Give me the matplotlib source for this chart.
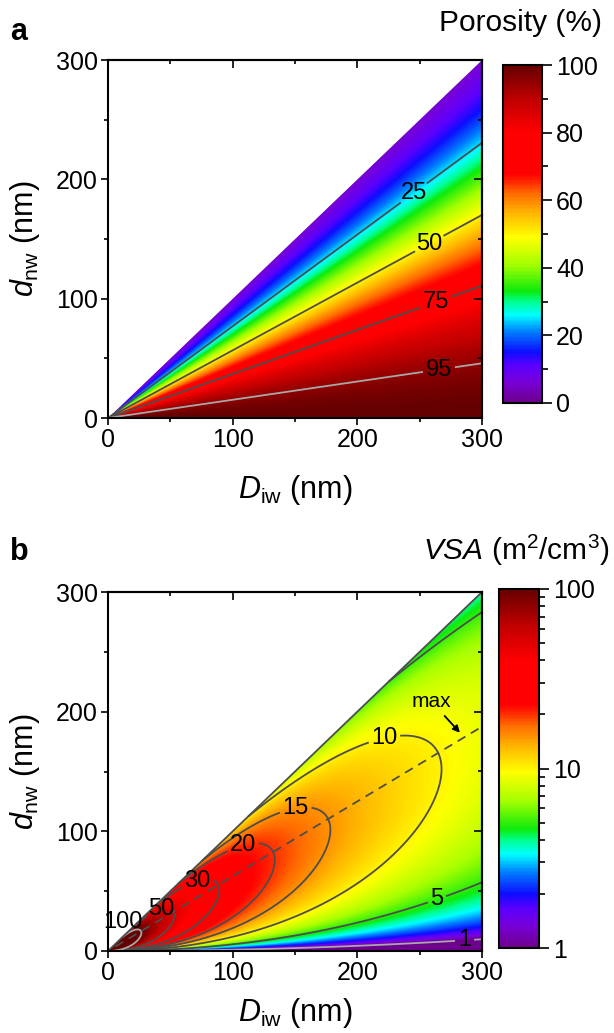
import numpy as np
import matplotlib
matplotlib.use('Agg')
import matplotlib.pyplot as plt
from matplotlib.colors import LinearSegmentedColormap, LogNorm, Normalize
from matplotlib.cm import ScalarMappable
from matplotlib.patches import Polygon
from matplotlib.ticker import MultipleLocator, LogLocator, NullFormatter, FixedLocator, FixedFormatter

plt.rcParams['font.family'] = ['Liberation Sans', 'DejaVu Sans']
plt.rcParams['mathtext.fontset'] = 'custom'
plt.rcParams['mathtext.rm'] = 'Liberation Sans'
plt.rcParams['mathtext.it'] = 'Liberation Sans:italic'
plt.rcParams['mathtext.bf'] = 'Liberation Sans:bold'
plt.rcParams['axes.linewidth'] = 1.5

# ---- data ----
D_lim = 300                       # nm, both axes run 0..300
axis_ticks = [0, 100, 200, 300]

# porosity map: contour levels and where their labels sit (D, d)
por_levels = [25, 50, 75, 95]
por_label_pos = [(244.7, 189.4), (257.0, 147.5), (263.0, 96.4), (265.5, 40.2)]
por_light = [95]

# VSA map: contour levels and label positions
vsa_levels = [1, 5, 10, 15, 20, 30, 50, 100]
vsa_label_pos = {1: (286.0, 9.2), 5: (263.6, 44.0), 10: (222.0, 176.0),
                 15: (151.0, 116.0), 20: (108.5, 87.0), 30: (72.5, 55.0),
                 50: (41.7, 38.4)}
vsa_outside_label = (12.0, 24.5)   # "100" sits outside the triangle
vsa_light = [1, 100]

# dashed "max" line and its annotation
max_line_D = [6.0, 300.0]
max_line_d = [3.75, 187.5]
max_text_pos = (259.6, 208.4)
max_arrow_tip = (282.3, 182.4)

# model coefficients for the interconnected wire network (x = d/D)
por_c2, por_c3 = 3 * np.pi / 4, np.sqrt(2)      # porosity = 1 - c2 x^2 + c3 x^3
vsa_a, vsa_b = 3 * np.pi, 8.3                   # VSA = 1000 (a x - b x^2) / D  [m2/cm3]

# ---- colour map (Origin style rainbow) ----
cmap = LinearSegmentedColormap.from_list('origin_rainbow', [
    (0.00, (0.43, 0.00, 0.55)),
    (0.06, (0.47, 0.00, 0.85)),
    (0.11, (0.35, 0.00, 1.00)),
    (0.15, (0.05, 0.05, 1.00)),
    (0.21, (0.00, 0.50, 1.00)),
    (0.26, (0.00, 1.00, 1.00)),
    (0.30, (0.00, 1.00, 0.55)),
    (0.33, (0.05, 0.92, 0.05)),
    (0.41, (0.65, 1.00, 0.00)),
    (0.49, (1.00, 1.00, 0.00)),
    (0.56, (1.00, 0.72, 0.00)),
    (0.62, (1.00, 0.42, 0.00)),
    (0.66, (1.00, 0.12, 0.00)),
    (0.68, (1.00, 0.00, 0.00)),
    (0.80, (1.00, 0.00, 0.00)),
    (0.90, (0.75, 0.00, 0.00)),
    (1.00, (0.40, 0.00, 0.00)),
])

dark = '#4d4d4d'
light = '#a8a8a8'

# ---- fields on a grid ----
g = np.linspace(0, D_lim, 1201)
Dg, dg = np.meshgrid(g, g)
with np.errstate(divide='ignore', invalid='ignore'):
    x = dg / Dg
    porosity = 100 * (1 - por_c2 * x**2 + por_c3 * x**3)
    vsa = 1000 * (vsa_a * x - vsa_b * x**2) / Dg
outside = (dg > Dg) | (Dg == 0)
porosity[outside] = np.nan
vsa[outside] = np.nan

fig = plt.figure(figsize=(6.14, 10.33), dpi=100)
W, H = 614, 1033
ax_a = fig.add_axes([108 / W, 1 - 418 / H, 374 / W, 358 / H])
cax_a = fig.add_axes([503 / W, 1 - 403 / H, 39 / W, 338 / H])
ax_b = fig.add_axes([108 / W, 1 - 951 / H, 374 / W, 359 / H])
cax_b = fig.add_axes([499 / W, 1 - 948 / H, 40 / W, 359 / H])

norm_a = Normalize(0, 100)
norm_b = LogNorm(1, 100, clip=True)


def style_axes(ax):
    ax.set_xlim(0, D_lim)
    ax.set_ylim(0, D_lim)
    ax.set_xticks(axis_ticks)
    ax.set_yticks(axis_ticks)
    ax.xaxis.set_minor_locator(MultipleLocator(50))
    ax.yaxis.set_minor_locator(MultipleLocator(50))
    ax.tick_params(which='major', direction='out', length=5, width=1.2, labelsize=18, pad=2.5)
    ax.tick_params(which='minor', direction='out', length=3, width=1.2)
    for side in ['top', 'right']:
        sec = ax.secondary_xaxis('top') if side == 'top' else ax.secondary_yaxis('right')
        axis = sec.xaxis if side == 'top' else sec.yaxis
        axis.set_major_locator(FixedLocator(axis_ticks))
        axis.set_minor_locator(MultipleLocator(50))
        sec.tick_params(which='major', direction='in', length=5.5, width=1.2)
        sec.tick_params(which='minor', direction='in', length=3, width=1.2)
        if side == 'top':
            sec.tick_params(labeltop=False)
        else:
            sec.tick_params(labelright=False)
    ax.set_xlabel(r'$\mathit{D}_{\mathrm{iw}}$ (nm)', fontsize=22)
    ax.set_ylabel(r'$\mathit{d}_{\mathrm{nw}}$ (nm)', fontsize=22)
    ax.yaxis.set_label_coords(-0.176, 0.5)


def draw_map(ax, field, norm):
    tri = Polygon([(0, 0), (D_lim, 0), (D_lim, D_lim)], closed=True, transform=ax.transData)
    im = ax.imshow(field, origin='lower', extent=(0, D_lim, 0, D_lim), cmap=cmap, norm=norm,
                   interpolation='bilinear', aspect='auto')
    im.set_clip_path(tri)


# ---- panel a ----
draw_map(ax_a, porosity, norm_a)
for lev, pos in zip(por_levels, por_label_pos):
    cs = ax_a.contour(Dg, dg, porosity, levels=[lev],
                      colors=[light if lev in por_light else dark], linewidths=1.3)
    labs = ax_a.clabel(cs, manual=[pos], inline=True, fontsize=17, fmt='%d', colors='k',
                       inline_spacing=3)
    for t in labs:
        t.set_rotation(0)
style_axes(ax_a)
ax_a.xaxis.set_label_coords(0.5, -0.155)

# ---- panel b ----
draw_map(ax_b, np.clip(vsa, 1, 100), norm_b)
for lev in vsa_levels:
    cs = ax_b.contour(Dg, dg, vsa, levels=[lev],
                      colors=[light if lev in vsa_light else dark], linewidths=1.3)
    if lev in vsa_label_pos:
        labs = ax_b.clabel(cs, manual=[vsa_label_pos[lev]], inline=True, fontsize=17,
                           fmt='%d', colors='k', inline_spacing=3)
        for t in labs:
            t.set_rotation(0)
ax_b.text(vsa_outside_label[0], vsa_outside_label[1], '100', fontsize=17,
          ha='center', va='center', clip_on=False)
ax_b.plot([0, D_lim], [0, D_lim], color=dark, lw=1.3)
ax_b.plot(max_line_D, max_line_d, color=dark, lw=1.3, ls=(0, (5, 3.5)))
ax_b.annotate('max', xy=max_arrow_tip, xytext=max_text_pos, fontsize=15,
              ha='center', va='center',
              arrowprops=dict(arrowstyle='-|>', color='k', lw=1.3, mutation_scale=10,
                              shrinkA=2, shrinkB=0))
style_axes(ax_b)
ax_b.xaxis.set_label_coords(0.5, -0.125)

# ---- colour bars ----
cb_a = fig.colorbar(ScalarMappable(norm=norm_a, cmap=cmap), cax=cax_a)
cb_a.set_ticks([0, 20, 40, 60, 80, 100])
cax_a.yaxis.set_minor_locator(MultipleLocator(10))
cb_b = fig.colorbar(ScalarMappable(norm=norm_b, cmap=cmap), cax=cax_b)
cax_b.yaxis.set_major_locator(FixedLocator([1, 10, 100]))
cax_b.yaxis.set_major_formatter(FixedFormatter(['1', '10', '100']))
cax_b.yaxis.set_minor_locator(LogLocator(base=10, subs=np.arange(2, 10)))
cax_b.yaxis.set_minor_formatter(NullFormatter())
for cax, cb in [(cax_a, cb_a), (cax_b, cb_b)]:
    cb.outline.set_linewidth(1.5)
    cax.tick_params(which='major', direction='out', length=7, width=1.2, labelsize=18, pad=3)
    cax.tick_params(which='minor', direction='out', length=4, width=1.2)

fig.text(602 / W, 1 - 23 / H, 'Porosity (%)', fontsize=21.5, ha='right', va='center')
fig.text(610 / W, 1 - 550 / H, r'$\mathit{VSA}$ (m$^2$/cm$^3$)', fontsize=21.5,
         ha='right', va='center')
fig.text(19 / W, 1 - 32 / H, 'a', fontsize=22, fontweight='bold', ha='center', va='center')
fig.text(19 / W, 1 - 552 / H, 'b', fontsize=22, fontweight='bold', ha='center', va='center')

fig.savefig('out.png', dpi=100)
